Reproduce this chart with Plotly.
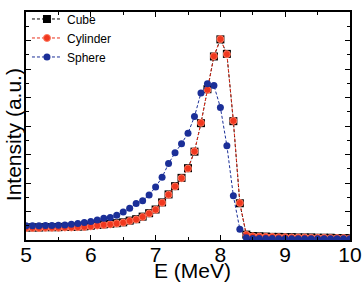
import plotly.graph_objects as go

energy = [round(5.0 + 0.1 * i, 1) for i in range(51)]

cube = [0.44, 0.44, 0.44, 0.45, 0.45, 0.45, 0.46, 0.46, 0.47, 0.48, 0.50,
        0.53, 0.55, 0.57, 0.59, 0.62, 0.68, 0.73, 0.82, 0.94, 1.07,
        1.32, 1.60, 1.89, 2.18, 2.52, 3.10, 4.10, 5.29, 6.44, 7.04,
        6.53, 4.17, 1.29, 0.19, 0.14, 0.13, 0.12, 0.11, 0.11, 0.10,
        0.10, 0.09, 0.09, 0.09, 0.08, 0.08, 0.08, 0.07, 0.07, 0.07]

cylinder = [0.42, 0.42, 0.42, 0.43, 0.43, 0.43, 0.44, 0.44, 0.45, 0.46, 0.48,
            0.51, 0.53, 0.55, 0.58, 0.61, 0.67, 0.72, 0.81, 0.93, 1.06,
            1.31, 1.59, 1.88, 2.17, 2.51, 3.11, 4.11, 5.27, 6.45, 7.05,
            6.52, 4.18, 1.30, 0.18, 0.13, 0.12, 0.11, 0.11, 0.10, 0.10,
            0.09, 0.09, 0.09, 0.08, 0.08, 0.08, 0.07, 0.07, 0.07, 0.06]

sphere = [0.50, 0.50, 0.50, 0.51, 0.51, 0.52, 0.53, 0.55, 0.58, 0.61, 0.65,
          0.70, 0.76, 0.79, 0.87, 0.98, 1.11, 1.28, 1.38, 1.58, 1.86,
          2.20, 2.68, 3.06, 3.38, 3.75, 4.33, 5.16, 5.48, 5.42, 4.65,
          3.31, 1.55, 0.38, 0.08, 0.05, 0.05, 0.05, 0.05, 0.04, 0.04,
          0.04, 0.04, 0.04, 0.04, 0.04, 0.04, 0.04, 0.04, 0.04, 0.04]

x_ticks = [5, 6, 7, 8, 9, 10]
x_title = "E (MeV)"
y_title = "Intensity (a.u.)"

FONT = "Arial, Liberation Sans, sans-serif"

fig = go.Figure()
fig.add_trace(go.Scatter(
    x=energy, y=cube, name="Cube", mode="lines+markers",
    line=dict(color="black", width=1, dash="3px,2px"),
    marker=dict(symbol="square", size=8, color="black"),
))
fig.add_trace(go.Scatter(
    x=energy, y=cylinder, name="Cylinder", mode="lines+markers",
    line=dict(color="#e8301c", width=1, dash="3px,2px"),
    marker=dict(symbol="circle", size=7, color="#f0381f",
                line=dict(color="#ff7a60", width=1)),
))
fig.add_trace(go.Scatter(
    x=energy, y=sphere, name="Sphere", mode="lines+markers",
    line=dict(color="#1b2f98", width=1, dash="3px,2px"),
    marker=dict(symbol="circle", size=7, color="#1b2f98"),
))

fig.update_layout(
    width=364, height=282,
    margin=dict(l=26, r=14, t=4, b=42),
    paper_bgcolor="white", plot_bgcolor="white",
    font=dict(family=FONT, color="black"),
    showlegend=True,
    legend=dict(x=0.003, y=1.033, xanchor="left", yanchor="top",
                bgcolor="rgba(0,0,0,0)", font=dict(size=12, family=FONT),
                tracegroupgap=0, itemwidth=30),
    xaxis=dict(
        range=[5, 10], tickvals=x_ticks, ticktext=[str(t) for t in x_ticks],
        ticks="inside", ticklen=5, tickwidth=1.2, tickcolor="black",
        minor=dict(ticks="inside", dtick=0.5, ticklen=3, tickcolor="black"),
        showline=True, linecolor="black", linewidth=1.5, mirror="ticks",
        showgrid=False, zeroline=False, automargin=False,
        tickfont=dict(size=21, family=FONT), ticklabelstandoff=-5,
    ),
    yaxis=dict(
        range=[0, 8], dtick=1, showticklabels=False,
        ticks="inside", ticklen=5, tickwidth=1.2, tickcolor="black",
        minor=dict(ticks="inside", dtick=0.5, ticklen=3, tickcolor="black"),
        showline=True, linecolor="black", linewidth=1.5, mirror="ticks",
        showgrid=False, zeroline=False, automargin=False,
    ),
    annotations=[
        dict(text=x_title, xref="paper", yref="paper", x=0.514, y=-0.178,
             xanchor="center", yanchor="bottom", yshift=-3, showarrow=False,
             font=dict(size=21, family=FONT)),
        dict(text=y_title, xref="paper", yref="paper", x=-0.0386, y=0.462,
             xanchor="center", yanchor="middle", textangle=-90, showarrow=False,
             font=dict(size=21, family=FONT)),
    ],
)

fig.write_html("out.html")
